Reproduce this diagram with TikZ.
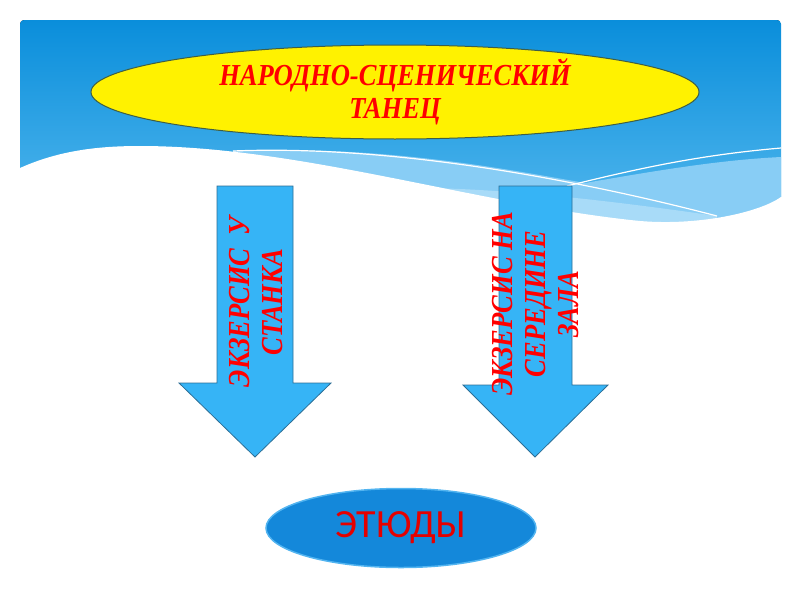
\documentclass[tikz,border=0pt]{standalone}
\usepackage{fontspec}
\newfontfamily\titlefont[FakeStretch=0.87]{Liberation Serif}
\newfontfamily\etudfont{Carlito}
\usetikzlibrary{shapes.geometric}

\definecolor{skytop}{HTML}{0A8EDB}
\definecolor{skybottom}{HTML}{5CBDF0}
\definecolor{skylight}{HTML}{88CDF5}
\definecolor{skypale}{HTML}{A8DBF8}
\definecolor{arrowblue}{HTML}{36B4F6}
\definecolor{arrowedge}{HTML}{2C6E96}
\definecolor{ovaledge}{HTML}{3E5E46}
\definecolor{etudblue}{HTML}{1488DA}
\definecolor{etudedge}{HTML}{52B4F0}
\definecolor{titlered}{HTML}{FF0000}

\begin{document}
\begin{tikzpicture}[x=1pt, y=-1pt,
  oval/.style={ellipse, draw, inner sep=0pt},
  downarrow/.style={fill=arrowblue, draw=arrowedge, line width=0.8pt},
  redtext/.style={text=titlered, align=center,
    font=\titlefont\bfseries\itshape\fontsize{30.5}{33}\selectfont}]
\useasboundingbox (0,0) rectangle (800,600);

% sky band with waves
\begin{scope}
\clip[rounded corners=4pt] (20,20) rectangle (781,250);
\fill[top color=skytop, bottom color=skybottom] (20,20) rectangle (781,250);
\fill[skylight] (233,151) .. controls (380,145) and (500,168) .. (585,183)
  .. controls (660,170) and (720,160) .. (781,157) -- (781,250) -- (233,250) -- cycle;
\fill[skypale] (430,188) .. controls (520,190) and (620,202) .. (717,216)
  -- (717,250) -- (430,250) -- cycle;
\end{scope}
\fill[white] (10,168) -- (20,168) .. controls (60,150) and (100,146) .. (140,146)
  .. controls (300,146) and (480,205) .. (640,221)
  .. controls (700,226) and (760,212) .. (781,197) -- (790,197) -- (790,260)
  -- (10,260) -- cycle;
\begin{scope}
\clip (20,20) rectangle (781,250);
\draw[white, line width=1.2pt] (233,151) .. controls (380,145) and (560,175) .. (717,216);
\draw[white, line width=1.2pt] (567,186) .. controls (640,168) and (700,155) .. (781,148);
\end{scope}

\node[oval, fill=yellow, draw=ovaledge, line width=1pt, minimum width=608pt,
  minimum height=87pt, redtext] (dance) at (395,92) {НАРОДНО-СЦЕНИЧЕСКИЙ\\ТАНЕЦ};

\draw[downarrow] (217,186) -- (293,186) -- (293,383) -- (331,383) -- (255,457)
  -- (179,383) -- (217,383) -- cycle;
\draw[downarrow] (499,186) -- (572,186) -- (572,385) -- (608,385) -- (535,457)
  -- (463,385) -- (499,385) -- cycle;

\node[redtext, rotate=90] (barre) at (256,302) {ЭКЗЕРСИС\ \ У\\СТАНКА};
\node[redtext, rotate=90] (centre) at (536,304) {ЭКЗЕРСИС НА\\СЕРЕДИНЕ\\ЗАЛА};

\node[oval, fill=etudblue, draw=etudedge, line width=1.5pt, minimum width=270pt,
  minimum height=79pt, text=titlered!90!black,
  font=\etudfont\fontsize{40}{40}\selectfont] (etudes) at (401,528) {ЭТЮДЫ};
\end{tikzpicture}
\end{document}
